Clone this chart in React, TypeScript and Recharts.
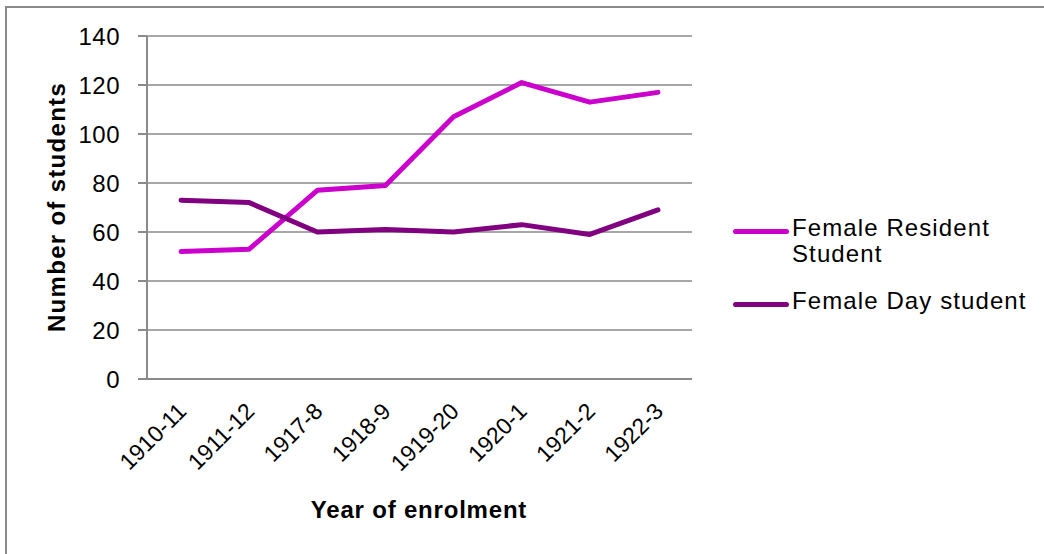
import React from "react";
import { LineChart, Line, XAxis, YAxis, CartesianGrid } from "recharts";

// enrolment years along the bottom
const years = ["1910-11", "1911-12", "1917-8", "1918-9", "1919-20", "1920-1", "1921-2", "1922-3"];
const residentStudents = [52, 53, 77, 79, 107, 121, 113, 117];
const dayStudents = [73, 72, 60, 61, 60, 63, 59, 69];
const yTicks = [0, 20, 40, 60, 80, 100, 120, 140];

const RESIDENT = "#CC00CC";
const DAY = "#800080";
const GRID = "#8a8a8a";
const FONT = "'Liberation Sans', Arial, sans-serif";

// points sit in the middle of each category slot, ticks on the slot edges
const data = years.map((year, i) => ({
  x: i + 0.5,
  year,
  resident: residentStudents[i],
  day: dayStudents[i],
}));
const edgeTicks = years.map((_, i) => i).concat(years.length);
const midTicks = years.map((_, i) => i + 0.5);

const YearTick = ({ x, y, payload }: any) => (
  <g transform={`translate(${x + 1},${y + 19})`}>
    <text
      x={0}
      y={0}
      dy="0.35em"
      textAnchor="end"
      transform="rotate(-45)"
      fontSize={23}
      fontFamily={FONT}
      fill="#000"
    >
      {years[Math.floor(payload.value)]}
    </text>
  </g>
);

const LegendRow = ({ color, top, label }: { color: string; top: number; label: React.ReactNode }) => (
  <>
    <div
      style={{
        position: "absolute",
        left: 733,
        top: top + 8,
        width: 56,
        height: 5,
        borderRadius: 3,
        background: color,
      }}
    />
    <div
      style={{
        position: "absolute",
        left: 792,
        top: top - 6,
        fontFamily: FONT,
        fontSize: 24,
        lineHeight: "26px",
        letterSpacing: 1.1,
        color: "#000",
        whiteSpace: "nowrap",
      }}
    >
      {label}
    </div>
  </>
);

export default function App() {
  return (
    <div
      style={{
        position: "fixed",
        left: 0,
        top: 0,
        width: 1044,
        height: 554,
        overflow: "hidden",
        background: "#fff",
      }}
    >
      {/* chart frame, only top and left edges fall inside the picture */}
      <div
        style={{
          position: "absolute",
          left: 5,
          top: 6,
          width: 1200,
          height: 700,
          borderTop: `2px solid ${GRID}`,
          borderLeft: `2px solid ${GRID}`,
        }}
      />
      <div style={{ position: "absolute", left: 0, top: 0 }}>
        <LineChart
          width={1044}
          height={554}
          data={data}
          margin={{ top: 36, right: 352, bottom: 75, left: 87 }}
        >
          <CartesianGrid xAxisId="edges" vertical={false} stroke={GRID} strokeWidth={1.5} />
          <XAxis
            xAxisId="edges"
            dataKey="x"
            type="number"
            domain={[0, years.length]}
            ticks={edgeTicks}
            interval={0}
            tick={false}
            tickSize={7}
            height={1}
            axisLine={{ stroke: GRID, strokeWidth: 2 }}
            tickLine={{ stroke: GRID, strokeWidth: 2 }}
          />
          <XAxis
            xAxisId="labels"
            dataKey="x"
            type="number"
            domain={[0, years.length]}
            ticks={midTicks}
            interval={0}
            tick={<YearTick />}
            tickLine={false}
            axisLine={false}
            height={99}
          />
          <YAxis
            type="number"
            domain={[0, 140]}
            ticks={yTicks}
            interval={0}
            width={60}
            tickSize={9}
            tickMargin={18}
            axisLine={{ stroke: GRID, strokeWidth: 2 }}
            tickLine={{ stroke: GRID, strokeWidth: 2 }}
            tick={{ fontSize: 24, fontFamily: FONT, fill: "#000", letterSpacing: 0.5 }}
          />
          <Line
            xAxisId="edges"
            dataKey="resident"
            stroke={RESIDENT}
            strokeWidth={5}
            dot={false}
            strokeLinecap="round"
            strokeLinejoin="round"
            isAnimationActive={false}
          />
          <Line
            xAxisId="edges"
            dataKey="day"
            stroke={DAY}
            strokeWidth={5}
            dot={false}
            strokeLinecap="round"
            strokeLinejoin="round"
            isAnimationActive={false}
          />
        </LineChart>
      </div>

      {/* axis titles */}
      <div
        style={{
          position: "absolute",
          left: 57,
          top: 207,
          transform: "translate(-50%, -50%) rotate(-90deg)",
          fontFamily: FONT,
          fontWeight: "bold",
          fontSize: 24,
          letterSpacing: 1.3,
          whiteSpace: "nowrap",
        }}
      >
        Number of students
      </div>
      <div
        style={{
          position: "absolute",
          left: 419,
          top: 510,
          transform: "translate(-50%, -50%)",
          fontFamily: FONT,
          fontWeight: "bold",
          fontSize: 24,
          letterSpacing: 0.8,
          whiteSpace: "nowrap",
        }}
      >
        Year of enrolment
      </div>

      <LegendRow
        color={RESIDENT}
        top={221}
        label={
          <>
            Female Resident
            <br />
            Student
          </>
        }
      />
      <LegendRow color={DAY} top={294} label="Female Day student" />
    </div>
  );
}
